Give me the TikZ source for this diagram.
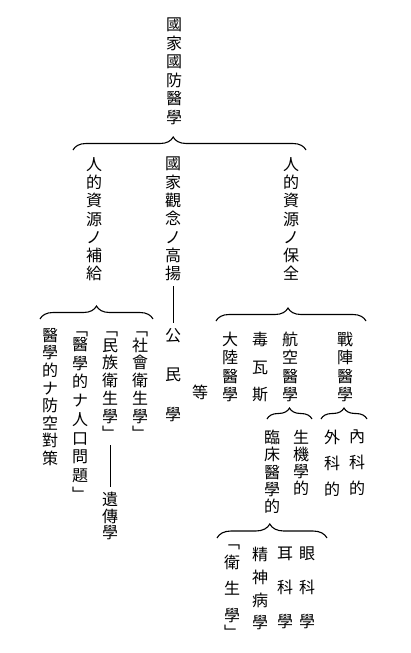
\documentclass[tikz,border=0pt]{standalone}
\usepackage{fontspec}
\newfontfamily\cjk{Noto Sans CJK JP}
\usepackage{tikz}
\usetikzlibrary{decorations.pathreplacing}

\begin{document}
\begin{tikzpicture}[x=1pt,y=-1pt]
\tikzstyle{vcol}=[inner sep=0pt, align=center, anchor=north]
\tikzset{lsp/.style={font={\cjk\fontsize{16pt}{#1pt}\selectfont}}}
\tikzstyle{curly}=[decorate, decoration={brace, amplitude=13pt}, line width=1.1pt]
\tikzstyle{connect}=[line width=0.7pt, shorten <=5pt, shorten >=5pt]
\useasboundingbox (0,0) rectangle (411,653);

% top
\node[vcol,lsp=18.5] (kokubo) at (174,18) {國\\家\\國\\防\\醫\\學};
\coordinate (b0l) at (73,150);
\coordinate (b0r) at (306,150);
\draw[curly, decoration={aspect=0.43}] (b0l) -- (b0r);

\node[vcol,lsp=18.3] (hokyu) at (94,157) {人\\的\\資\\源\\ノ\\補\\給};
\node[vcol,lsp=18.3] (koyo) at (173,157) {國\\家\\觀\\念\\ノ\\高\\揚};
\node[vcol,lsp=18.3] (hozen) at (291,157) {人\\的\\資\\源\\ノ\\保\\全};
\node[vcol,lsp=39.5] (komin) at (173,328) {公\\民\\學};
\draw[connect] (koyo) -- (komin);

% left branch
\coordinate (b1l) at (40,319);
\coordinate (b1r) at (153,319);
\draw[curly] (b1l) -- (b1r);
\node[vcol,lsp=17.75] (shakai) at (140,332) {﹁\\[-2.5pt]社\\會\\衛\\生\\學\\﹂};
\node[vcol,lsp=17.75] (minzoku) at (110,332) {﹁\\[-2.5pt]民\\族\\衛\\生\\學\\﹂};
\node[vcol,lsp=16.5] (iden) at (110,492) {遺\\傳\\學};
\draw[connect] (minzoku) -- (iden);
\node[vcol,lsp=18.7] (jinko) at (80,332) {﹁\\[-4pt]醫\\學\\的\\ナ\\人\\口\\問\\題\\﹂};
\node[vcol,lsp=17.6] (boku) at (50,328) {醫\\學\\的\\ナ\\防\\空\\對\\策};

% right branch
\coordinate (b2l) at (216,321);
\coordinate (b2r) at (366,321);
\draw[curly, decoration={aspect=0.48}] (b2l) -- (b2r);
\node[vcol,lsp=18.3] (senjin) at (345,332) {戰\\陣\\醫\\學};
\node[vcol,lsp=18.3] (koku) at (290,332) {航\\空\\醫\\學};
\node[vcol,lsp=27.5] (dokugas) at (260,332) {毒\\瓦\\斯};
\node[vcol,lsp=18.3] (tairiku) at (230,332) {大\\陸\\醫\\學};
\node[vcol,lsp=18.3] (nado) at (200,385) {等};

\coordinate (b3l) at (267,419);
\coordinate (b3r) at (312,419);
\draw[curly, decoration={amplitude=11pt}] (b3l) -- (b3r);
\coordinate (b4l) at (321,419);
\coordinate (b4r) at (367,419);
\draw[curly, decoration={amplitude=11pt}] (b4l) -- (b4r);
\node[vcol,lsp=26] (naika) at (357,430) {內\\科\\的};
\node[vcol,lsp=26] (geka) at (332,430) {外\\科\\的};
\node[vcol,lsp=17] (seiki) at (301,430) {生\\機\\學\\的};
\node[vcol,lsp=17.25] (rinsho) at (272,430) {臨\\床\\醫\\學\\的};

% clinical
\coordinate (b5l) at (217,538);
\coordinate (b5r) at (327,538);
\draw[curly, decoration={amplitude=14pt, aspect=0.48}] (b5l) -- (b5r);
\node[vcol,lsp=34] (ganka) at (307,547) {眼\\科\\學};
\node[vcol,lsp=34] (jika) at (285,547) {耳\\科\\學};
\node[vcol,lsp=22.7] (seishin) at (260,547) {精\\神\\病\\學};
\node[vcol,lsp=26.5] (eisei) at (232,545) {﹁\\[-7pt]衛\\生\\學\\[-9pt]﹂};
\end{tikzpicture}
\end{document}
